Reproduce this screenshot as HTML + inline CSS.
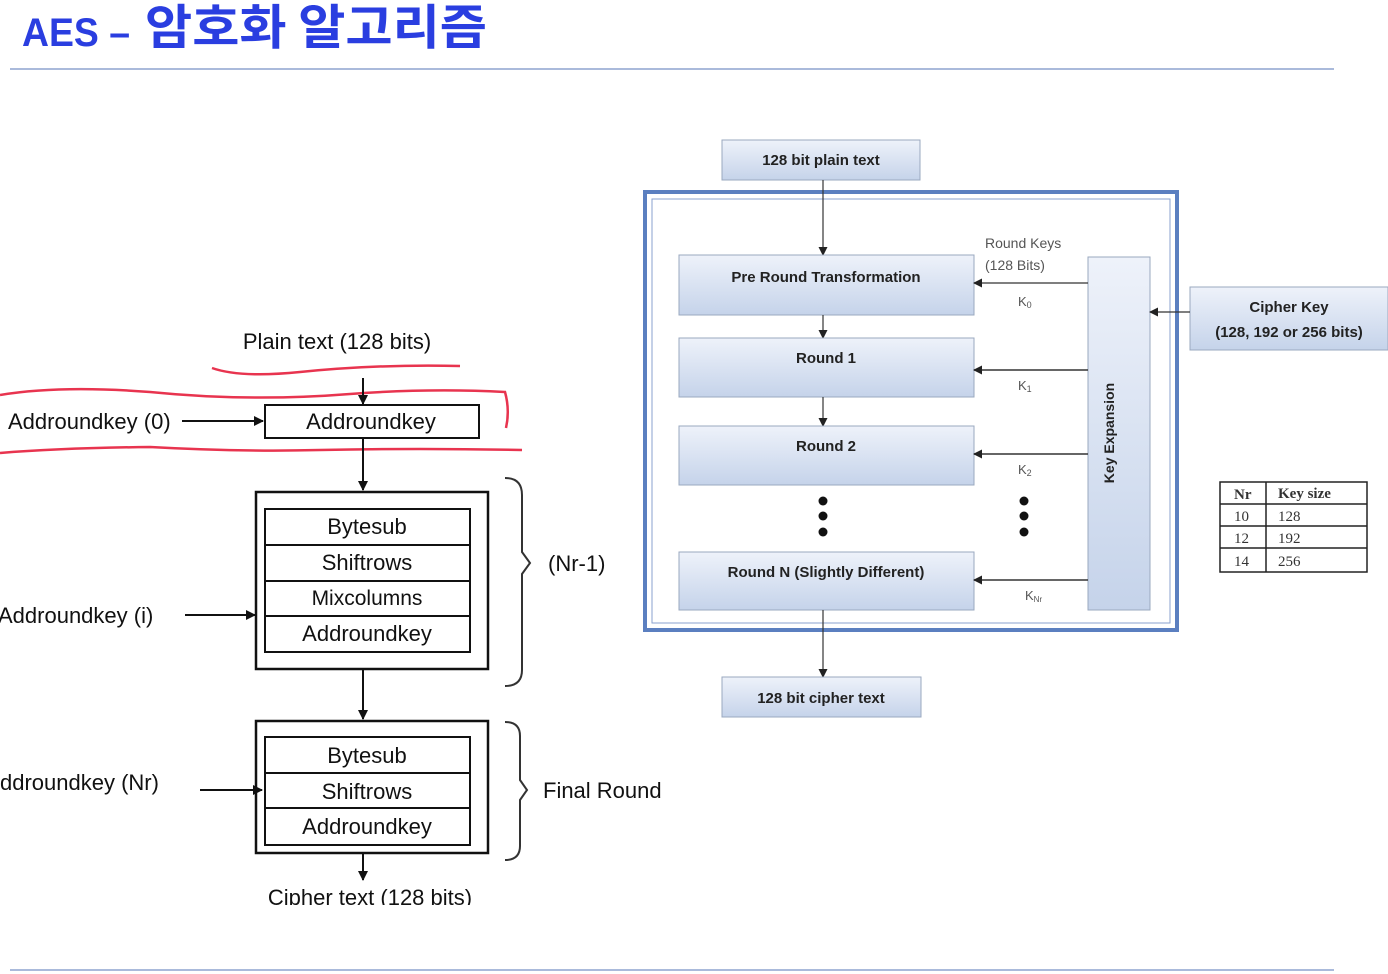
<!DOCTYPE html>
<html><head><meta charset="utf-8"><style>
html,body{margin:0;padding:0;background:#fff;width:1388px;height:974px;overflow:hidden}
svg{display:block}
.t{font-family:"Liberation Sans",Arial,sans-serif}
</style></head><body>
<svg width="1388" height="974" xmlns="http://www.w3.org/2000/svg">
<defs>
<linearGradient id="g" x1="0" y1="0" x2="0" y2="1"><stop offset="0" stop-color="#eef2fa"/><stop offset="1" stop-color="#c5d3ea"/></linearGradient>
<marker id="a" markerWidth="10" markerHeight="10" refX="9" refY="5" orient="auto" markerUnits="userSpaceOnUse"><path d="M0,0 L10,5 L0,10 z" fill="#111"/></marker>
<marker id="b" markerWidth="9" markerHeight="9" refX="8" refY="4.5" orient="auto" markerUnits="userSpaceOnUse"><path d="M0,0 L9,4.5 L0,9 z" fill="#222"/></marker>
</defs>
<text x="22" y="46" font-family="Liberation Sans, sans-serif" font-size="40" font-weight="bold" fill="#2a3ee0" textLength="108" lengthAdjust="spacingAndGlyphs">AES –</text>
<text x="145" y="44" font-family="Noto Sans CJK KR, sans-serif" font-size="48" font-weight="bold" fill="#2a3ee0" textLength="342" lengthAdjust="spacingAndGlyphs">암호화 알고리즘</text>
<line x1="10" y1="69" x2="1334" y2="69" stroke="#8ea3cf" stroke-width="1.5"/>
<line x1="10" y1="970" x2="1334" y2="970" stroke="#8ea3cf" stroke-width="1.5"/>

<!-- left diagram -->
<g class="t" fill="#111" font-size="22">
<text x="337" y="349" text-anchor="middle">Plain text (128 bits)</text>
<path d="M212,368 Q240,378 300,372 Q380,364 460,366" stroke="#e8344f" stroke-width="2.5" fill="none"/>
<path d="M0,395 Q60,385 150,392 Q250,402 350,394 Q430,388 505,392 Q510,410 506,428" stroke="#e8344f" stroke-width="2.5" fill="none"/>
<path d="M0,453 Q60,448 150,447 Q240,452 320,450 Q420,448 522,450" stroke="#e8344f" stroke-width="2.5" fill="none"/>
<line x1="363" y1="378" x2="363" y2="404" stroke="#111" stroke-width="2" marker-end="url(#a)"/>
<rect x="265" y="405" width="214" height="33" fill="none" stroke="#111" stroke-width="2"/>
<text x="371" y="429" text-anchor="middle">Addroundkey</text>
<text x="8" y="429">Addroundkey (0)</text>
<line x1="182" y1="421" x2="263" y2="421" stroke="#111" stroke-width="2" marker-end="url(#a)"/>
<line x1="363" y1="438" x2="363" y2="490" stroke="#111" stroke-width="2" marker-end="url(#a)"/>
<rect x="256" y="492" width="232" height="177" fill="none" stroke="#111" stroke-width="2.5"/>
<rect x="265" y="509" width="205" height="143" fill="none" stroke="#111" stroke-width="2"/>
<line x1="265" y1="545" x2="470" y2="545" stroke="#111" stroke-width="2"/>
<line x1="265" y1="581" x2="470" y2="581" stroke="#111" stroke-width="2"/>
<line x1="265" y1="616" x2="470" y2="616" stroke="#111" stroke-width="2"/>
<text x="367" y="534" text-anchor="middle">Bytesub</text>
<text x="367" y="570" text-anchor="middle">Shiftrows</text>
<text x="367" y="605" text-anchor="middle" font-size="21">Mixcolumns</text>
<text x="367" y="641" text-anchor="middle">Addroundkey</text>
<path d="M505,478 Q522,478 522,495 L522,552 L530,563 L522,574 L522,670 Q522,686 505,686" fill="none" stroke="#333" stroke-width="2"/>
<text x="548" y="571">(Nr-1)</text>
<text x="-2" y="623">Addroundkey (i)</text>
<line x1="185" y1="615" x2="255" y2="615" stroke="#111" stroke-width="2" marker-end="url(#a)"/>
<line x1="363" y1="669" x2="363" y2="719" stroke="#111" stroke-width="2" marker-end="url(#a)"/>
<rect x="256" y="721" width="232" height="132" fill="none" stroke="#111" stroke-width="2.5"/>
<rect x="265" y="737" width="205" height="108" fill="none" stroke="#111" stroke-width="2"/>
<line x1="265" y1="773" x2="470" y2="773" stroke="#111" stroke-width="2"/>
<line x1="265" y1="808" x2="470" y2="808" stroke="#111" stroke-width="2"/>
<text x="367" y="763" text-anchor="middle">Bytesub</text>
<text x="367" y="799" text-anchor="middle">Shiftrows</text>
<text x="367" y="834" text-anchor="middle">Addroundkey</text>
<path d="M505,722 Q520,722 520,736 L520,780 L527,790 L520,800 L520,846 Q520,860 505,860" fill="none" stroke="#333" stroke-width="2"/>
<text x="543" y="798">Final Round</text>
<text x="0" y="790">ddroundkey (Nr)</text>
<line x1="200" y1="790" x2="262" y2="790" stroke="#111" stroke-width="2" marker-end="url(#a)"/>
<line x1="363" y1="853" x2="363" y2="880" stroke="#111" stroke-width="2" marker-end="url(#a)"/>
<text x="370" y="905" text-anchor="middle">Cipher text (128 bits)</text>
<rect x="0" y="905" width="680" height="30" fill="#fff"/>
</g>

<!-- right diagram -->
<g class="t" font-size="15" font-weight="bold" fill="#222">
<rect x="645" y="192" width="532" height="438" fill="none" stroke="#5b7fc0" stroke-width="4"/>
<rect x="652" y="199" width="518" height="424" fill="none" stroke="#8aa2cf" stroke-width="1"/>
<rect x="722" y="140" width="198" height="40" fill="url(#g)" stroke="#9aa8bf"/>
<text x="821" y="165" text-anchor="middle">128 bit plain text</text>
<line x1="823" y1="180" x2="823" y2="255" stroke="#333" stroke-width="1.2" marker-end="url(#b)"/>
<rect x="679" y="255" width="295" height="60" fill="url(#g)" stroke="#9aa8bf"/>
<text x="826" y="282" text-anchor="middle">Pre Round Transformation</text>
<line x1="823" y1="315" x2="823" y2="338" stroke="#333" stroke-width="1.2" marker-end="url(#b)"/>
<rect x="679" y="338" width="295" height="59" fill="url(#g)" stroke="#9aa8bf"/>
<text x="826" y="363" text-anchor="middle">Round 1</text>
<line x1="823" y1="397" x2="823" y2="426" stroke="#333" stroke-width="1.2" marker-end="url(#b)"/>
<rect x="679" y="426" width="295" height="59" fill="url(#g)" stroke="#9aa8bf"/>
<text x="826" y="451" text-anchor="middle">Round 2</text>
<rect x="679" y="552" width="295" height="58" fill="url(#g)" stroke="#9aa8bf"/>
<text x="826" y="577" text-anchor="middle">Round N (Slightly Different)</text>
<g fill="#111"><circle cx="823" cy="501" r="4.5"/><circle cx="823" cy="516" r="4.5"/><circle cx="823" cy="532" r="4.5"/>
<circle cx="1024" cy="501" r="4.5"/><circle cx="1024" cy="516" r="4.5"/><circle cx="1024" cy="532" r="4.5"/></g>
<rect x="1088" y="257" width="62" height="353" fill="url(#g)" stroke="#9aa8bf"/>
<text transform="translate(1114,433) rotate(-90)" text-anchor="middle" font-size="14">Key Expansion</text>
<line x1="1088" y1="283" x2="974" y2="283" stroke="#333" stroke-width="1.2" marker-end="url(#b)"/>
<line x1="1088" y1="370" x2="974" y2="370" stroke="#333" stroke-width="1.5" marker-end="url(#b)"/>
<line x1="1088" y1="454" x2="974" y2="454" stroke="#333" stroke-width="1.5" marker-end="url(#b)"/>
<line x1="1088" y1="580" x2="974" y2="580" stroke="#333" stroke-width="1.5" marker-end="url(#b)"/>
<g font-weight="normal" fill="#555" font-size="14">
<text x="985" y="248">Round Keys</text><text x="985" y="270">(128 Bits)</text>
<text x="1018" y="306" font-size="13">K<tspan font-size="9" dy="2">0</tspan></text>
<text x="1018" y="390" font-size="13">K<tspan font-size="9" dy="2">1</tspan></text>
<text x="1018" y="474" font-size="13">K<tspan font-size="9" dy="2">2</tspan></text>
<text x="1025" y="600" font-size="13">K<tspan font-size="8" dy="2">Nr</tspan></text>
</g>
<rect x="1190" y="287" width="198" height="63" fill="url(#g)" stroke="#9aa8bf"/>
<text x="1289" y="312" text-anchor="middle">Cipher Key</text>
<text x="1289" y="337" text-anchor="middle">(128, 192 or 256 bits)</text>
<line x1="1190" y1="312" x2="1150" y2="312" stroke="#333" stroke-width="1.2" marker-end="url(#b)"/>
<line x1="823" y1="610" x2="823" y2="677" stroke="#333" stroke-width="1.2" marker-end="url(#b)"/>
<rect x="722" y="677" width="199" height="40" fill="url(#g)" stroke="#9aa8bf"/>
<text x="821" y="703" text-anchor="middle">128 bit cipher text</text>
</g>

<g font-family="Liberation Serif, serif" font-size="15" fill="#333">
<rect x="1220" y="482" width="147" height="90" fill="#fff" stroke="#222" stroke-width="1.5"/>
<line x1="1266" y1="482" x2="1266" y2="572" stroke="#222" stroke-width="1.5"/>
<line x1="1220" y1="504" x2="1367" y2="504" stroke="#222" stroke-width="1.5"/>
<line x1="1220" y1="526" x2="1367" y2="526" stroke="#222" stroke-width="1.5"/>
<line x1="1220" y1="548" x2="1367" y2="548" stroke="#222" stroke-width="1.5"/>
<text x="1234" y="499" font-weight="bold">Nr</text><text x="1278" y="498" font-weight="bold">Key size</text>
<text x="1234" y="521">10</text><text x="1278" y="521">128</text>
<text x="1234" y="543">12</text><text x="1278" y="543">192</text>
<text x="1234" y="566">14</text><text x="1278" y="566">256</text>
</g>
</svg>
</body></html>
